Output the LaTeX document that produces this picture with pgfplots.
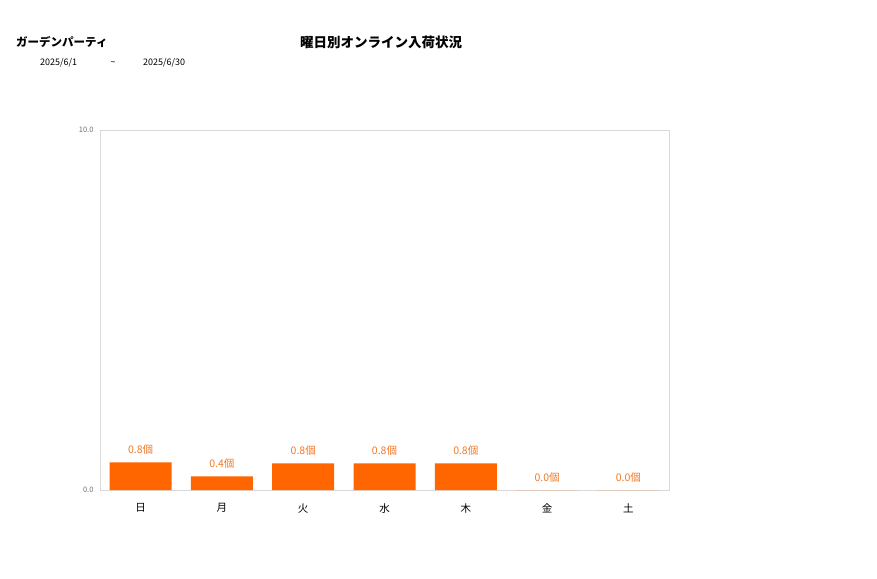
\documentclass[border=0pt]{standalone}
\usepackage{pgfplots}
\pgfplotsset{compat=1.18}
\usepackage{fontspec}
\setmainfont{Noto Sans CJK JP}
\definecolor{barorange}{HTML}{FF6600}
\definecolor{labelorange}{HTML}{F07828}
\definecolor{framegray}{HTML}{D9D9D9}
\definecolor{tickgray}{HTML}{707070}

\begin{document}
\begin{tikzpicture}
	\path (0,0) rectangle (877pt,-578pt);
	\node[anchor=west,inner sep=0pt,font=\fontsize{11.5}{13}\selectfont\bfseries] at (16pt,-42pt) {ガーデンパーティ};
	\node[inner sep=0pt,font=\fontsize{13.5}{15}\selectfont\bfseries] at (381pt,-42pt) {曜日別オンライン入荷状況};
	\node[anchor=west,inner sep=0pt,font=\fontsize{9}{10}\selectfont] at (40pt,-63pt) {2025/6/1};
	\node[inner sep=0pt,font=\fontsize{9}{10}\selectfont] at (113pt,-63pt) {\textasciitilde};
	\node[anchor=west,inner sep=0pt,font=\fontsize{9}{10}\selectfont] at (143pt,-63pt) {2025/6/30};
	\begin{axis}[
		at={(100pt,-490pt)}, anchor=south west,
		scale only axis, width=569pt, height=360pt,
		xmin=-0.5, xmax=6.5, ymin=0, ymax=10,
		xtick={0,1,...,6},
		xticklabels={日,月,火,水,木,金,土},
		ytick={0,10},
		yticklabels={0.0,10.0},
		axis line style={framegray},
		major tick length=0pt,
		tick label style={font=\fontsize{7.5}{8}\selectfont, text=tickgray},
		x tick label style={font=\fontsize{10.5}{12}\selectfont, text=black, yshift=-10pt},
		y tick label style={xshift=-3pt},
		ybar, bar width=62pt,
		nodes near coords,
		point meta=explicit symbolic,
		every node near coord/.append style={font=\fontsize{10.5}{12}\selectfont, text=labelorange, yshift=4pt},
		]
		\addplot[fill=barorange, draw=none] coordinates {
			(0,0.77) [0.8個]
			(1,0.38) [0.4個]
			(2,0.74) [0.8個]
			(3,0.74) [0.8個]
			(4,0.74) [0.8個]
			(5,0) [0.0個]
			(6,0) [0.0個]
		};
	\end{axis}
\end{tikzpicture}
\end{document}
